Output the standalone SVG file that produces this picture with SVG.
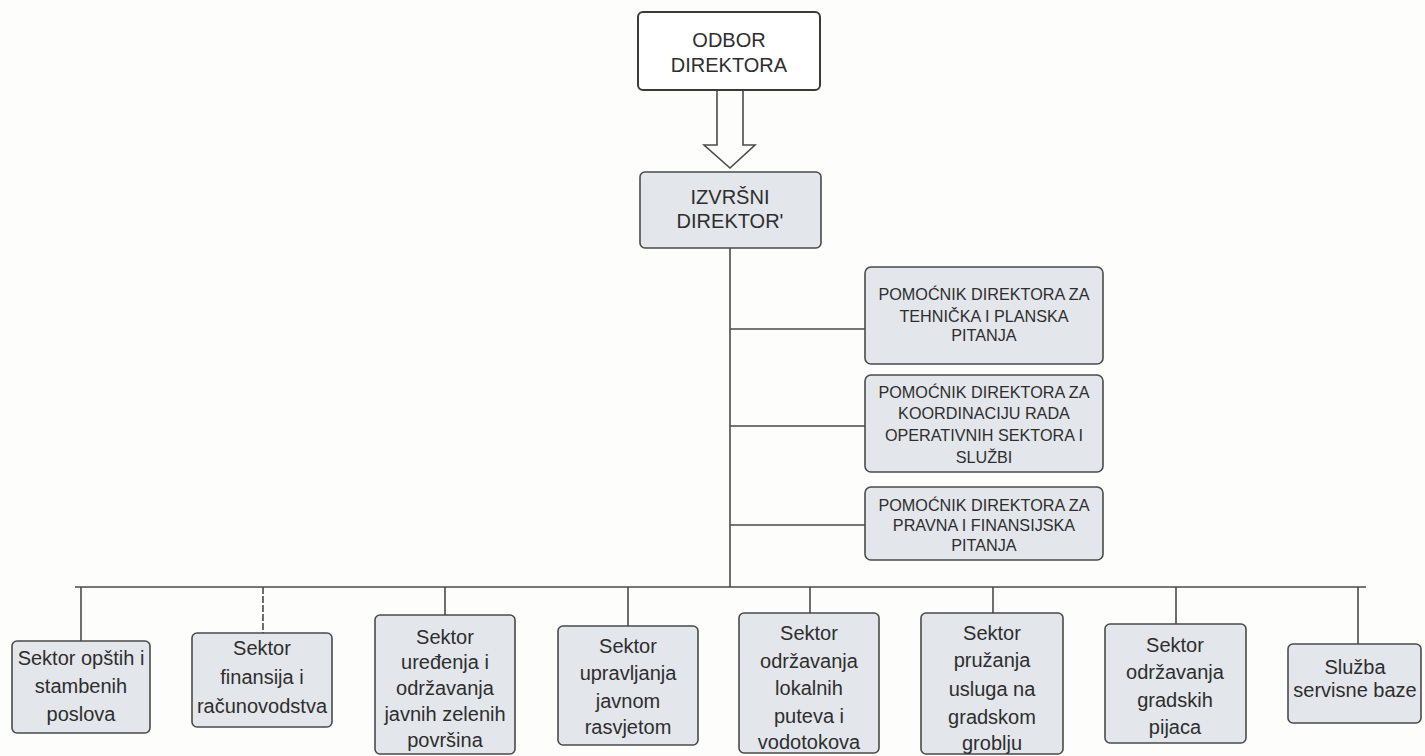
<svg xmlns="http://www.w3.org/2000/svg" width="1425" height="756" viewBox="0 0 1425 756">
<style>
.box{fill:#e3e6eb;stroke:#4a4a4a;stroke-width:1.6}
.top{fill:#ffffff;stroke:#3a3a3a;stroke-width:2}
.ln{stroke:#4a4a4a;stroke-width:1.6;fill:none}
text{font-family:"Liberation Sans",Arial,sans-serif;fill:#2e2e2e;text-anchor:middle}
.t20{font-size:20px}
.t16{font-size:16.2px}
.b{font-size:20px}
</style>
<rect width="1425" height="756" fill="#fdfdfc"/>
<g id="connectors">
<path class="ln" d="M717,90 L743,90 L743,145 L755,145 L730,168 L704,145 L717,145 Z" fill="#ffffff"/>
<line class="ln" x1="730" y1="248" x2="730" y2="587"/>
<line class="ln" x1="730" y1="329" x2="865" y2="329"/>
<line class="ln" x1="730" y1="426" x2="865" y2="426"/>
<line class="ln" x1="730" y1="525" x2="865" y2="525"/>
<line class="ln" x1="75" y1="587" x2="1366" y2="587"/>
<line class="ln" x1="81" y1="587" x2="81" y2="641"/>
<line class="ln" x1="263" y1="587" x2="263" y2="633" stroke="#8a8a8a" stroke-dasharray="7,2"/>
<line class="ln" x1="445" y1="587" x2="445" y2="615"/>
<line class="ln" x1="628" y1="587" x2="628" y2="626"/>
<line class="ln" x1="810" y1="587" x2="810" y2="613"/>
<line class="ln" x1="993" y1="587" x2="993" y2="613"/>
<line class="ln" x1="1176" y1="587" x2="1176" y2="624"/>
<line class="ln" x1="1358" y1="587" x2="1358" y2="644"/>
</g>
<g id="odbor">
<rect class="top" x="638" y="12" width="182" height="78" rx="5"/>
<text class="t20" x="729" y="47">ODBOR</text>
<text class="t20" x="729" y="72">DIREKTORA</text>
</g>
<g id="izvrsni">
<rect class="box" x="640" y="172" width="181" height="76" rx="5"/>
<text class="t20" x="730" y="204">IZVRŠNI</text>
<text class="t20" x="730" y="228">DIREKTOR'</text>
</g>
<g id="pom1">
<rect class="box" x="865" y="267" width="238" height="97" rx="6"/>
<text class="t16" x="984" y="300">POMOĆNIK DIREKTORA ZA</text>
<text class="t16" x="984" y="322">TEHNIČKA I PLANSKA</text>
<text class="t16" x="984" y="341">PITANJA</text>
</g>
<g id="pom2">
<rect class="box" x="865" y="375" width="238" height="97" rx="6"/>
<text class="t16" x="984" y="398">POMOĆNIK DIREKTORA ZA</text>
<text class="t16" x="984" y="419">KOORDINACIJU RADA</text>
<text class="t16" x="984" y="441">OPERATIVNIH SEKTORA I</text>
<text class="t16" x="984" y="463">SLUŽBI</text>
</g>
<g id="pom3">
<rect class="box" x="865" y="487" width="238" height="73" rx="6"/>
<text class="t16" x="984" y="511">POMOĆNIK DIREKTORA ZA</text>
<text class="t16" x="984" y="531">PRAVNA I FINANSIJSKA</text>
<text class="t16" x="984" y="551">PITANJA</text>
</g>
<g id="s1">
<rect class="box" x="12" y="641" width="138" height="92" rx="5"/>
<text class="b" x="81" y="665">Sektor opštih i</text>
<text class="b" x="81" y="693">stambenih</text>
<text class="b" x="81" y="721">poslova</text>
</g>
<g id="s2">
<rect class="box" x="192" y="633" width="140" height="94" rx="5"/>
<text class="b" x="262" y="655">Sektor</text>
<text class="b" x="262" y="684">finansija i</text>
<text class="b" x="262" y="713">računovodstva</text>
</g>
<g id="s3">
<rect class="box" x="375" y="615" width="140" height="139" rx="5"/>
<text class="b" x="445" y="644">Sektor</text>
<text class="b" x="445" y="669">uređenja i</text>
<text class="b" x="445" y="695">održavanja</text>
<text class="b" x="445" y="721">javnih zelenih</text>
<text class="b" x="445" y="747">površina</text>
</g>
<g id="s4">
<rect class="box" x="558" y="626" width="140" height="119" rx="5"/>
<text class="b" x="628" y="653">Sektor</text>
<text class="b" x="628" y="680">upravljanja</text>
<text class="b" x="628" y="708">javnom</text>
<text class="b" x="628" y="734">rasvjetom</text>
</g>
<g id="s5">
<rect class="box" x="739" y="613" width="140" height="140" rx="5"/>
<text class="b" x="809" y="640">Sektor</text>
<text class="b" x="809" y="668">održavanja</text>
<text class="b" x="809" y="695">lokalnih</text>
<text class="b" x="809" y="723">puteva i</text>
<text class="b" x="809" y="749">vodotokova</text>
</g>
<g id="s6">
<rect class="box" x="921" y="613" width="142" height="141" rx="5"/>
<text class="b" x="992" y="640">Sektor</text>
<text class="b" x="992" y="667">pružanja</text>
<text class="b" x="992" y="696">usluga na</text>
<text class="b" x="992" y="724">gradskom</text>
<text class="b" x="992" y="750">groblju</text>
</g>
<g id="s7">
<rect class="box" x="1105" y="624" width="141" height="119" rx="5"/>
<text class="b" x="1175" y="652">Sektor</text>
<text class="b" x="1175" y="679">održavanja</text>
<text class="b" x="1175" y="707">gradskih</text>
<text class="b" x="1175" y="734">pijaca</text>
</g>
<g id="s8">
<rect class="box" x="1288" y="644" width="133" height="79" rx="5"/>
<text class="b" x="1355" y="674">Služba</text>
<text class="b" x="1355" y="697">servisne baze</text>
</g>
</svg>
